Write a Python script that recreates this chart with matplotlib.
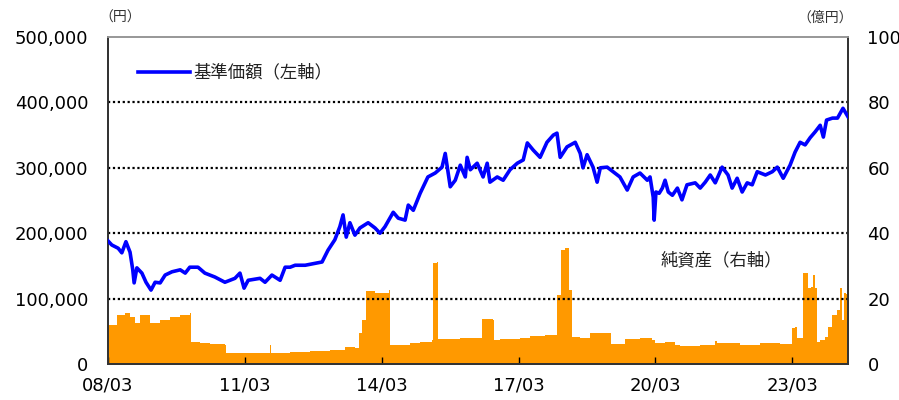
import matplotlib
matplotlib.use("Agg")
import matplotlib.pyplot as plt
import numpy as np

plt.rcParams['font.family'] = ['DejaVu Sans', 'Noto Sans CJK JP']

# 基準価額 (円) : time in decimal years
price_t = [2008.17, 2008.25, 2008.39, 2008.47, 2008.56, 2008.65, 2008.71, 2008.74, 2008.80, 2008.91,
           2009.00, 2009.11, 2009.20, 2009.31, 2009.42, 2009.57, 2009.75, 2009.86, 2009.96, 2010.14,
           2010.29, 2010.51, 2010.73, 2010.95, 2011.06, 2011.15, 2011.24, 2011.50, 2011.61, 2011.76,
           2011.94, 2012.05, 2012.16, 2012.27, 2012.49, 2012.71, 2012.86, 2012.99, 2013.14, 2013.25,
           2013.32, 2013.39, 2013.47, 2013.58, 2013.69, 2013.87, 2014.02, 2014.13, 2014.24, 2014.42,
           2014.53, 2014.68, 2014.75, 2014.86, 2015.01, 2015.18, 2015.34, 2015.49, 2015.56, 2015.67,
           2015.78, 2015.89, 2016.00, 2016.04, 2016.11, 2016.26, 2016.39, 2016.48, 2016.54, 2016.70,
           2016.83, 2016.98, 2017.14, 2017.27, 2017.36, 2017.49, 2017.64, 2017.79, 2017.93, 2018.01,
           2018.08, 2018.23, 2018.41, 2018.52, 2018.58, 2018.67, 2018.80, 2018.89, 2018.96, 2019.11,
           2019.24, 2019.39, 2019.55, 2019.68, 2019.83, 2019.99, 2020.05, 2020.12, 2020.14, 2020.18,
           2020.25, 2020.32, 2020.38, 2020.45, 2020.54, 2020.65, 2020.75, 2020.86, 2021.04, 2021.15,
           2021.26, 2021.37, 2021.48, 2021.63, 2021.76, 2021.85, 2021.96, 2022.07, 2022.18, 2022.29,
           2022.40, 2022.58, 2022.73, 2022.84, 2022.97, 2023.12, 2023.23, 2023.34, 2023.45, 2023.56,
           2023.67, 2023.78, 2023.85, 2023.92, 2024.05, 2024.16, 2024.28, 2024.39]
price_v = [188000, 182000, 177000, 170000, 187000, 171000, 144000, 124000, 147000, 139000,
           125000, 113000, 125000, 124000, 136000, 141000, 144000, 139000, 148000, 148000,
           139000, 133000, 125000, 131000, 139000, 116000, 128000, 131000, 125000, 136000,
           128000, 148000, 148000, 151000, 151000, 154000, 156000, 174000, 190000, 210000,
           228000, 194000, 216000, 197000, 208000, 216000, 208000, 200000, 210000, 232000,
           223000, 220000, 243000, 235000, 261000, 286000, 292000, 301000, 322000, 271000,
           281000, 304000, 286000, 316000, 297000, 307000, 286000, 307000, 278000, 286000,
           281000, 297000, 307000, 312000, 338000, 327000, 316000, 339000, 350000, 353000,
           316000, 332000, 339000, 322000, 300000, 320000, 301000, 278000, 300000, 301000,
           294000, 286000, 266000, 286000, 292000, 281000, 286000, 255000, 220000, 263000,
           261000, 269000, 281000, 263000, 258000, 269000, 251000, 274000, 277000, 269000,
           278000, 289000, 277000, 301000, 289000, 269000, 284000, 263000, 277000, 274000,
           294000, 289000, 294000, 301000, 284000, 304000, 324000, 339000, 335000, 346000,
           355000, 365000, 347000, 373000, 376000, 376000, 391000, 378000]

# 純資産 (億円)
nav_t = [2008.17, 2008.32, 2008.36, 2008.54, 2008.65, 2008.76, 2008.87, 2009.09, 2009.31, 2009.53,
         2009.75, 2009.96, 2009.99, 2010.18, 2010.40, 2010.73, 2010.75, 2011.06, 2011.70, 2011.72,
         2011.74, 2012.16, 2012.60, 2013.03, 2013.36, 2013.58, 2013.67, 2013.74, 2013.82, 2014.02,
         2014.33, 2014.35, 2014.57, 2014.79, 2015.01, 2015.27, 2015.29, 2015.38, 2015.40, 2015.89,
         2016.37, 2016.61, 2016.63, 2016.76, 2017.20, 2017.42, 2017.75, 2017.99, 2018.01, 2018.10,
         2018.19, 2018.28, 2018.34, 2018.52, 2018.72, 2018.74, 2019.18, 2019.20, 2019.50, 2019.83,
         2020.10, 2020.16, 2020.38, 2020.60, 2020.71, 2021.15, 2021.47, 2021.48, 2021.52, 2022.03,
         2022.46, 2022.90, 2023.16, 2023.17, 2023.23, 2023.28, 2023.40, 2023.41, 2023.47, 2023.52,
         2023.58, 2023.63, 2023.67, 2023.71, 2023.78, 2023.89, 2023.96, 2024.04, 2024.15, 2024.22,
         2024.26, 2024.30, 2024.35, 2024.37, 2024.39]
nav_v = [12.0, 12.0, 15.0, 15.6, 14.5, 12.5, 15.0, 12.5, 13.5, 14.5,
         15.0, 15.6, 6.7, 6.4, 6.1, 5.9, 3.4, 3.4, 3.4, 5.9,
         3.5, 3.7, 3.9, 4.3, 5.3, 5.0, 9.5, 13.5, 22.4, 21.8,
         22.5, 5.9, 5.9, 6.4, 6.8, 7.3, 31.0, 31.2, 7.5, 7.8,
         13.8, 13.4, 7.3, 7.6, 8.1, 8.6, 8.9, 8.9, 21.1, 34.9,
         35.4, 22.6, 8.3, 8.1, 8.1, 9.6, 9.4, 6.1, 7.6, 7.8,
         7.3, 6.5, 6.8, 5.8, 5.5, 5.8, 5.8, 7.1, 6.3, 5.8,
         6.3, 6.1, 6.1, 10.9, 11.2, 7.8, 7.8, 27.7, 27.9, 23.1,
         23.6, 27.2, 23.1, 6.8, 7.2, 8.3, 11.2, 15.0, 16.5, 23.1,
         13.5, 21.6, 21.5, 14.0, 14.0]

xtick_pos = [2008.167, 2011.167, 2014.167, 2017.167, 2020.167, 2023.167]
xtick_labels = ['08/03', '11/03', '14/03', '17/03', '20/03', '23/03']
left_ticks = [0, 100000, 200000, 300000, 400000, 500000]
right_ticks = [0, 20, 40, 60, 80, 100]

fig = plt.figure(figsize=(8.99, 4.0), dpi=100)
ax2 = fig.add_axes([108/899, 36/400, 740/899, 327/400])
ax = ax2.twinx()
ax.yaxis.tick_left()
ax2.yaxis.tick_right()

ax2.fill_between(nav_t, 0, nav_v, step='post', color='#FF9900', linewidth=0)
ax2.set_ylim(0, 100)
ax2.set_xlim(2008.167, 2024.39)

ax.set_ylim(0, 500000)
for v in left_ticks[1:-1]:
    ax.axhline(v, color='black', linestyle=(0, (1, 1.2)), linewidth=1.6, zorder=1)
ax.plot(price_t, price_v, color='#0000FF', linewidth=2.6, zorder=3, solid_joinstyle='round')
ax.set_xlim(2008.167, 2024.39)

ax.set_yticks(left_ticks)
ax.set_yticklabels([f'{v:,}' for v in left_ticks])
ax2.set_yticks(right_ticks)
ax2.set_yticklabels([str(v) for v in right_ticks])
ax.tick_params(axis='y', which='both', length=0, pad=14, labelsize=13, labelleft=True, labelright=False)
ax2.tick_params(axis='y', which='both', length=0, pad=14, labelsize=13, labelleft=False, labelright=True)
ax2.set_xticks(xtick_pos)
ax2.set_xticklabels(xtick_labels)
ax2.tick_params(axis='x', direction='in', length=5, width=1, pad=9, labelsize=13)
ax.tick_params(axis='x', which='both', length=0, labelbottom=False)

for a in (ax, ax2):
    for s in ['left', 'right', 'bottom']:
        a.spines[s].set_color('#333333')
        a.spines[s].set_linewidth(1.3)
    a.spines['top'].set_color('#999999')
    a.spines['top'].set_linewidth(1.3)

fig.text(99/899, 382/400, '（円）', fontsize=10,
         family=['Noto Sans CJK JP', 'DejaVu Sans'], ha='left', va='center', color='#333333')
fig.text(853/899, 382/400, '（億円）', fontsize=10,
         family=['Noto Sans CJK JP', 'DejaVu Sans'], ha='right', va='center', color='#333333')

ax.plot([138/899, 190/899], [328/400, 328/400], transform=fig.transFigure, color='#0000FF',
        linewidth=2.6, clip_on=False)
fig.text(193/899, 328/400, '基準価額（左軸）', fontsize=12.5,
         family=['Noto Sans CJK JP', 'DejaVu Sans'], ha='left', va='center', color='#222222')
fig.text(661/899, 140/400, '純資産（右軸）', fontsize=12.5,
         family=['Noto Sans CJK JP', 'DejaVu Sans'], ha='left', va='center', color='#222222')

fig.savefig('out.png', dpi=100)
